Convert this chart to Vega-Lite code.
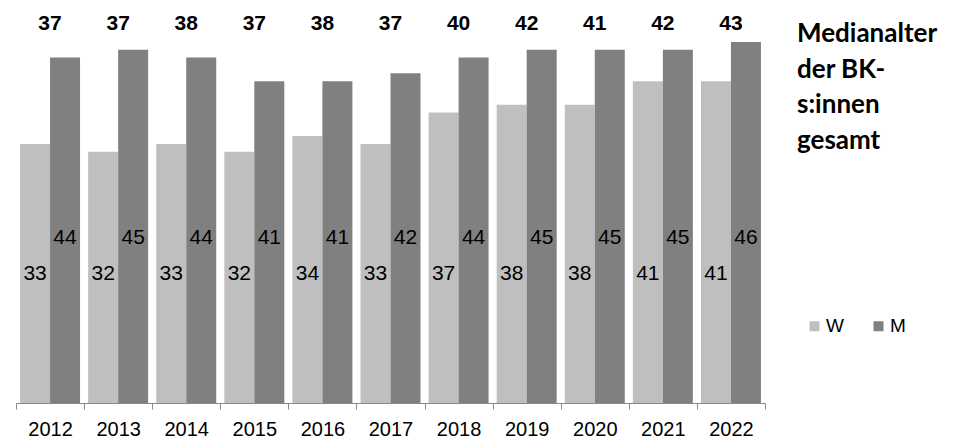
{
  "$schema": "https://vega.github.io/schema/vega-lite/v6.json",
  "autosize": {"type": "none"},
  "padding": {"left": 16, "top": 10.5, "right": 202, "bottom": 36},
  "width": 749,
  "height": 392.5,
  "background": "#ffffff",
  "datasets": {
    "bars": [
      {"year": "2012", "sex": "W", "value": 33}, {"year": "2012", "sex": "M", "value": 44},
      {"year": "2013", "sex": "W", "value": 32}, {"year": "2013", "sex": "M", "value": 45},
      {"year": "2014", "sex": "W", "value": 33}, {"year": "2014", "sex": "M", "value": 44},
      {"year": "2015", "sex": "W", "value": 32}, {"year": "2015", "sex": "M", "value": 41},
      {"year": "2016", "sex": "W", "value": 34}, {"year": "2016", "sex": "M", "value": 41},
      {"year": "2017", "sex": "W", "value": 33}, {"year": "2017", "sex": "M", "value": 42},
      {"year": "2018", "sex": "W", "value": 37}, {"year": "2018", "sex": "M", "value": 44},
      {"year": "2019", "sex": "W", "value": 38}, {"year": "2019", "sex": "M", "value": 45},
      {"year": "2020", "sex": "W", "value": 38}, {"year": "2020", "sex": "M", "value": 45},
      {"year": "2021", "sex": "W", "value": 41}, {"year": "2021", "sex": "M", "value": 45},
      {"year": "2022", "sex": "W", "value": 41}, {"year": "2022", "sex": "M", "value": 46}
    ],
    "totals": [
      {"year": "2012", "total": 37}, {"year": "2013", "total": 37}, {"year": "2014", "total": 38},
      {"year": "2015", "total": 37}, {"year": "2016", "total": 38}, {"year": "2017", "total": 37},
      {"year": "2018", "total": 40}, {"year": "2019", "total": 42}, {"year": "2020", "total": 41},
      {"year": "2021", "total": 42}, {"year": "2022", "total": 43}
    ]
  },
  "title": {
    "text": ["Medianalter", "der BK-", "s:innen", "gesamt"],
    "orient": "top",
    "anchor": "start",
    "frame": "group",
    "align": "left",
    "baseline": "top",
    "dx": 781,
    "dy": 143,
    "offset": 0,
    "font": "Lato",
    "fontSize": 26,
    "fontWeight": "bold",
    "color": "#000000",
    "lineHeight": 35.5
  },
  "layer": [
    {
      "data": {"name": "bars"},
      "mark": {"type": "bar"},
      "encoding": {
        "x": {
          "field": "year", "type": "ordinal",
          "scale": {"paddingInner": 0, "paddingOuter": 0},
          "axis": {
            "title": null, "labelAngle": 0, "labelFont": "Liberation Sans", "labelFontSize": 20,
            "labelColor": "#000000", "labelPadding": 10, "tickBand": "extent", "tickSize": 6,
            "tickColor": "#898989", "domainColor": "#898989", "grid": false, "labelOverlap": false
          }
        },
        "xOffset": {"field": "sex", "scale": {"domain": ["W", "M"], "paddingOuter": 0.135, "paddingInner": 0}},
        "y": {"field": "value", "type": "quantitative", "scale": {"domain": [0, 50]}, "axis": null},
        "color": {
          "field": "sex", "type": "nominal",
          "scale": {"domain": ["W", "M"], "range": ["#bfbfbf", "#808080"]},
          "legend": {
            "orient": "none", "legendX": 789, "legendY": 306, "direction": "horizontal", "title": null,
            "symbolType": "square", "symbolSize": 100, "symbolStrokeWidth": 0,
            "labelFontSize": 19, "labelFont": "Liberation Sans", "labelColor": "#000000",
            "columnPadding": 25, "labelOffset": 2, "padding": 0
          }
        }
      }
    },
    {
      "data": {"name": "bars"},
      "transform": [{"filter": "datum.sex === 'W'"}],
      "mark": {"type": "text", "font": "Liberation Sans", "fontSize": 21, "color": "#000000"},
      "encoding": {
        "x": {"field": "year", "type": "ordinal"},
        "xOffset": {"field": "sex"},
        "y": {"datum": 16.4},
        "text": {"field": "value"}
      }
    },
    {
      "data": {"name": "bars"},
      "transform": [{"filter": "datum.sex === 'M'"}],
      "mark": {"type": "text", "font": "Liberation Sans", "fontSize": 21, "color": "#000000"},
      "encoding": {
        "x": {"field": "year", "type": "ordinal"},
        "xOffset": {"field": "sex"},
        "y": {"datum": 21},
        "text": {"field": "value"}
      }
    },
    {
      "data": {"name": "totals"},
      "mark": {"type": "text", "font": "Liberation Sans", "fontSize": 21, "fontWeight": "bold", "color": "#000000"},
      "encoding": {
        "x": {"field": "year", "type": "ordinal"},
        "y": {"datum": 48.3},
        "text": {"field": "total"}
      }
    }
  ],
  "config": {"view": {"stroke": null}}
}
